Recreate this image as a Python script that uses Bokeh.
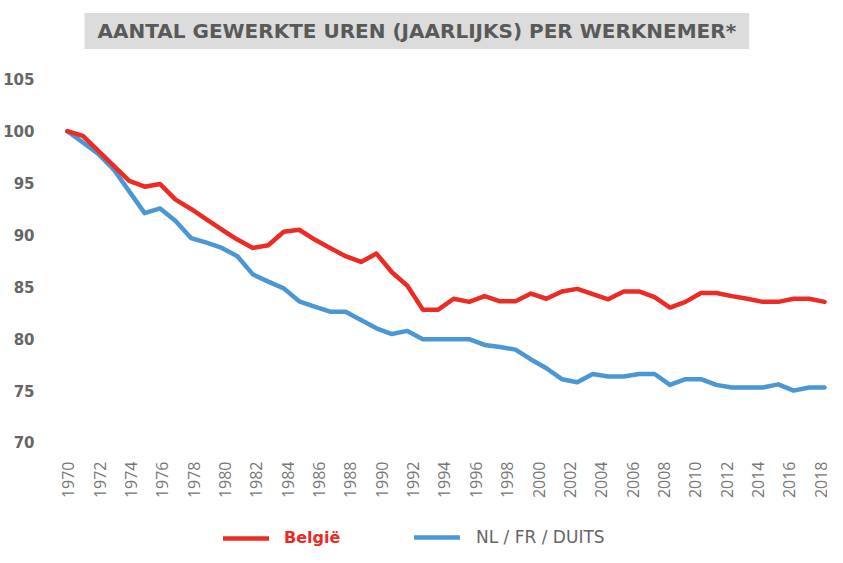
import math
from bokeh.plotting import figure
from bokeh.core.properties import value
from bokeh.models import Range1d, LinearAxis, FixedTicker, Legend, LegendItem, Title
from bokeh.embed import file_html
from bokeh.resources import INLINE

# Annual values (index 1970 = 100), 50 observations
years = list(range(1970, 2020))
belgie = [100, 99.55, 98.1, 96.65, 95.2, 94.65, 94.9, 93.4, 92.5, 91.5,
          90.5, 89.55, 88.75, 89.0, 90.3, 90.5, 89.55, 88.75, 87.95, 87.4,
          88.2, 86.4, 85.1, 82.8, 82.8, 83.85, 83.55, 84.1, 83.6, 83.6,
          84.35, 83.85, 84.55, 84.8, 84.3, 83.8, 84.55, 84.55, 84.0, 83.0,
          83.55, 84.4, 84.4, 84.1, 83.85, 83.55, 83.55, 83.85, 83.85, 83.55]
buren = [100, 98.9, 97.8, 96.3, 94.2, 92.1, 92.55, 91.35, 89.7, 89.25,
         88.75, 87.95, 86.2, 85.5, 84.85, 83.6, 83.1, 82.6, 82.6, 81.8,
         81.0, 80.45, 80.75, 79.95, 79.95, 79.95, 79.95, 79.4, 79.2, 78.95,
         78.0, 77.15, 76.1, 75.8, 76.6, 76.35, 76.35, 76.6, 76.6, 75.55,
         76.1, 76.1, 75.55, 75.3, 75.3, 75.3, 75.6, 75.0, 75.3, 75.3]
tick_years = list(range(1970, 2019, 2))
tick_labels = [str(y) for y in tick_years]
y_ticks = [70, 75, 80, 85, 90, 95, 100, 105]

title_text = "AANTAL GEWERKTE UREN (JAARLIJKS) PER WERKNEMER*"
label_be = "België"
label_nb = "NL / FR / DUITS"

RED = "#EC2B24"
BLUE = "#4A97D4"
GRID = "#d9d9d9"

p = figure(width=827, height=547, output_backend="svg", toolbar_location=None,
           x_range=Range1d(1969.487, 2019.192), y_range=Range1d(59.88, 107),
           x_axis_type=None, y_axis_type=None,
           min_border_left=52, min_border_right=0, min_border_top=58,
           min_border_bottom=0)
p.outline_line_color = None
p.extra_x_ranges = {"lab": Range1d(1969.431, 2018.443)}

t = Title(text=title_text, align="left", offset=25, vertical_align="bottom",
          standoff=19,
          text_font="DejaVu Sans", text_font_size="20px", text_font_style="bold",
          text_color="#595959", background_fill_color="#dcdcdc",
          padding=(13, 6))
p.add_layout(t, "above")

yax = LinearAxis(ticker=FixedTicker(ticks=y_ticks))
yax.axis_line_color = None
yax.major_tick_line_color = None
yax.minor_tick_line_color = None
yax.major_label_standoff = 19
yax.major_label_text_font = "DejaVu Sans"
yax.major_label_text_font_style = "bold"
yax.major_label_text_font_size = "15px"
yax.major_label_text_color = "#666666"
p.add_layout(yax, "left")

p.xgrid.visible = False
p.ygrid.ticker = FixedTicker(ticks=y_ticks)
p.ygrid.grid_line_color = GRID
p.ygrid.grid_line_width = 2

# category labels under the 70-line
p.text(x=tick_years, y=[y_ticks[0]] * len(tick_years), text=tick_labels,
       x_range_name="lab", angle=math.pi / 2, text_align="right",
       text_baseline="middle", y_offset=19,
       text_font=value("Open Sans"), text_font_size="16px",
       text_color="#777777")

r_nb = p.line(years, buren, line_color=BLUE, line_width=4.5,
              line_join="round", line_cap="round")
r_be = p.line(years, belgie, line_color=RED, line_width=4.5,
              line_join="round", line_cap="round")

l1 = Legend(items=[LegendItem(label=label_be, renderers=[r_be])],
            location=(164, 0), orientation="horizontal",
            glyph_width=46, glyph_height=12, label_standoff=15,
            padding=0, margin=0, border_line_color=None,
            background_fill_alpha=0,
            label_text_font="DejaVu Sans", label_text_font_style="bold",
            label_text_font_size="16px", label_text_color=RED)
l2 = Legend(items=[LegendItem(label=label_nb, renderers=[r_nb])],
            location=(355, 0), orientation="horizontal",
            glyph_width=46, glyph_height=12, label_standoff=16,
            padding=0, margin=0, border_line_color=None,
            background_fill_alpha=0,
            label_text_font="DejaVu Sans", label_text_font_style="normal",
            label_text_font_size="17px", label_text_color="#666666")
p.add_layout(l1, "center")
p.add_layout(l2, "center")

open("out.html", "w").write(file_html(p, INLINE))
